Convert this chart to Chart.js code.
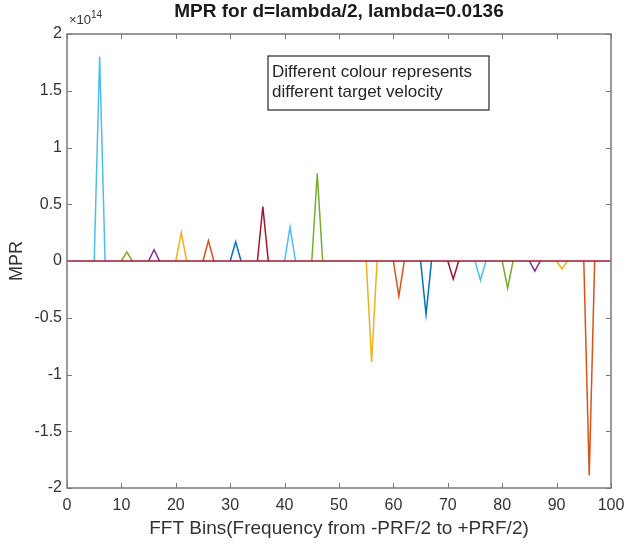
<!DOCTYPE html>
<html>
<head>
<meta charset="utf-8">
<script src="https://cdn.jsdelivr.net/npm/chart.js@4/dist/chart.umd.min.js"></script>
<style>
  html, body { margin: 0; padding: 0; background: #fff; }
  #wrap { width: 627px; height: 544px; }
</style>
</head>
<body>
<div id="wrap"><canvas id="mprChart"></canvas></div>
<script>
// FFT bins where each target velocity gives its spike
const peakBins = [6, 11, 16, 21, 26, 31, 36, 41, 46, 56, 61, 66, 71, 76, 81, 86, 91, 96];
// MPR at the spike, in units of 1e14
const peakValues = [1.8, 0.08, 0.1, 0.25, 0.18, 0.17, 0.48, 0.3, 0.77,
  -0.89, -0.31, -0.47, -0.16, -0.17, -0.24, -0.09, -0.07, -1.89];
const peakColors = ['#4DBEEE', '#77AC30', '#7E2F8E', '#EDB120', '#D95319', '#0072BD', '#A2142F', '#4DBEEE', '#77AC30',
  '#EDB120', '#D95319', '#0072BD', '#A2142F', '#4DBEEE', '#77AC30', '#7E2F8E', '#EDB120', '#D95319'];
const zeroLine = [{ x: 0, y: 0 }, { x: 100, y: 0 }];
const xTicks = [0, 10, 20, 30, 40, 50, 60, 70, 80, 90, 100];
const yTicks = [-2, -1.5, -1, -0.5, 0, 0.5, 1, 1.5, 2];

const axisGray = '#7a7a7a';
const textGray = '#333333';
const font = 'Liberation Sans, Arial, sans-serif';

const datasets = [{
  data: zeroLine,
  borderColor: '#A2142F',
  borderWidth: 1.5,
  pointRadius: 0
}];
peakBins.forEach((bin, i) => {
  datasets.push({
    data: [{ x: bin - 1, y: 0 }, { x: bin, y: peakValues[i] }, { x: bin + 1, y: 0 }],
    borderColor: peakColors[i],
    borderWidth: 1.5,
    pointRadius: 0
  });
});

// title, box, inward ticks, exponent and the note
const matlabAxes = {
  id: 'matlabAxes',
  afterDraw(chart) {
    const { ctx, chartArea: a, scales } = chart;
    ctx.save();

    // title centred over the axes like MATLAB does
    ctx.fillStyle = '#1a1a1a';
    ctx.font = 'bold 19px ' + font;
    ctx.textAlign = 'center';
    ctx.textBaseline = 'middle';
    ctx.fillText('MPR for d=lambda/2, lambda=0.0136', (a.left + a.right) / 2, 12);

    ctx.strokeStyle = axisGray;
    ctx.lineWidth = 1.5;
    ctx.strokeRect(a.left, a.top, a.right - a.left, a.bottom - a.top);
    ctx.lineWidth = 1;
    ctx.beginPath();
    xTicks.forEach(t => {
      const px = Math.round(scales.x.getPixelForValue(t)) + 0.5;
      ctx.moveTo(px, a.bottom); ctx.lineTo(px, a.bottom - 5);
      ctx.moveTo(px, a.top); ctx.lineTo(px, a.top + 5);
    });
    yTicks.forEach(t => {
      const py = Math.round(scales.y.getPixelForValue(t)) + 0.5;
      ctx.moveTo(a.left, py); ctx.lineTo(a.left + 5, py);
      ctx.moveTo(a.right, py); ctx.lineTo(a.right - 5, py);
    });
    ctx.stroke();

    // x10^14
    ctx.fillStyle = textGray;
    ctx.textBaseline = 'alphabetic';
    ctx.textAlign = 'left';
    ctx.font = '13px ' + font;
    ctx.fillText('\u00d710', a.left + 2, a.top - 10);
    const w = ctx.measureText('\u00d710').width;
    ctx.font = '10px ' + font;
    ctx.fillText('14', a.left + 2 + w, a.top - 16);

    // note box
    const bx = a.left + 201, by = a.top + 22, bw = 221, bh = 54;
    ctx.fillStyle = '#fff';
    ctx.fillRect(bx, by, bw, bh);
    ctx.strokeStyle = '#262626';
    ctx.lineWidth = 1.2;
    ctx.strokeRect(bx, by, bw, bh);
    ctx.fillStyle = '#262626';
    ctx.font = '17px ' + font;
    ctx.textBaseline = 'middle';
    ctx.fillText('Different colour represents', bx + 4, by + 16);
    ctx.fillText('different target velocity', bx + 4, by + 36);
    ctx.restore();
  }
};

new Chart(document.getElementById('mprChart'), {
  type: 'line',
  data: { datasets },
  options: {
    responsive: true,
    maintainAspectRatio: false,
    animation: false,
    layout: { padding: { top: 34, right: 16, left: 0, bottom: 0 } },
    plugins: {
      legend: { display: false },
      tooltip: { enabled: false },
      title: { display: false }
    },
    scales: {
      x: {
        type: 'linear',
        min: 0,
        max: 100,
        afterFit: s => { s.height = 56; s.paddingLeft = 0; s.paddingRight = 0; },
        afterBuildTicks: s => { s.ticks = xTicks.map(v => ({ value: v })); },
        grid: { display: false, drawTicks: false },
        border: { display: false },
        ticks: { color: textGray, font: { family: font, size: 16 }, padding: 8, maxRotation: 0, callback: v => String(v) },
        title: { display: true, text: 'FFT Bins(Frequency from -PRF/2 to +PRF/2)', color: textGray, font: { family: font, size: 19 }, padding: { top: 0, bottom: 4 } }
      },
      y: {
        min: -2,
        max: 2,
        afterFit: s => { s.width = 67; s.paddingTop = 0; s.paddingBottom = 0; },
        afterBuildTicks: s => { s.ticks = yTicks.map(v => ({ value: v })); },
        grid: { display: false, drawTicks: false },
        border: { display: false },
        ticks: { color: textGray, font: { family: font, size: 16 }, padding: 5, callback: v => String(v) },
        title: { display: true, text: 'MPR', color: textGray, font: { family: font, size: 18 }, padding: { top: 6, bottom: 0 } }
      }
    }
  },
  plugins: [matlabAxes]
});
</script>
</body>
</html>
